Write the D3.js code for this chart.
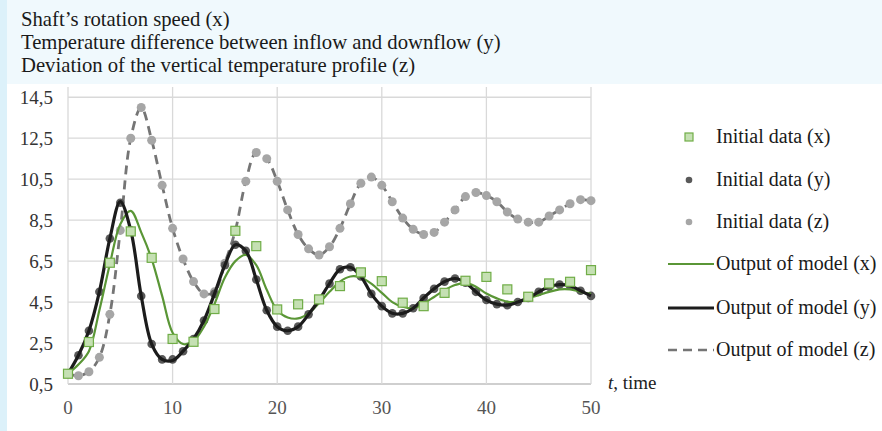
<!DOCTYPE html>
<html>
<head>
<meta charset="utf-8">
<script src="https://cdn.jsdelivr.net/npm/d3@7"></script>
<style>
body{margin:0;background:#fff;}
svg{display:block;}
</style>
</head>
<body>
<div id="chart"></div>
<script>
// ---- data ----
let titleLines = ["Shaft\u2019s rotation speed (x)",
  "Temperature difference between inflow and downflow (y)",
  "Deviation of the vertical temperature profile (z)"];

let timeX = [0,2,4,6,8,10,12,14,16,18,20,22,24,26,28,30,32,34,36,38,40,42,44,46,48,50];
let initX = [1.0,2.55,6.42,7.95,6.66,2.7,2.56,4.16,7.98,7.23,4.14,4.39,4.63,5.28,5.95,5.52,4.47,4.3,4.95,5.54,5.73,5.12,4.76,5.41,5.49,6.06];

let timeAll = [0,1,2,3,4,5,6,7,8,9,10,11,12,13,14,15,16,17,18,19,20,21,22,23,24,25,
  26,27,28,29,30,31,32,33,34,35,36,37,38,39,40,41,42,43,44,45,46,47,48,49,50];

let initY = [1.0,1.9,3.1,5.0,7.6,9.35,8.0,4.8,2.45,1.7,1.7,2.1,2.7,3.6,4.9,6.3,7.3,7.0,5.6,4.1,
  3.3,3.1,3.3,3.9,4.6,5.4,6.1,6.2,5.75,4.9,4.3,3.95,3.95,4.2,4.7,5.15,5.5,5.65,5.45,5.0,
  4.6,4.4,4.35,4.5,4.7,5.0,5.25,5.35,5.3,5.05,4.8];

let initZ = [1.0,0.9,1.1,1.8,3.9,8.0,12.5,14.0,12.4,10.2,8.1,6.6,5.5,4.9,5.0,6.4,8.0,10.4,11.8,11.5,
  10.4,9.0,7.8,7.1,6.8,7.2,8.1,9.3,10.3,10.6,10.2,9.4,8.6,8.05,7.8,7.9,8.4,9.0,9.65,9.85,
  9.7,9.4,8.9,8.55,8.4,8.4,8.7,9.0,9.3,9.5,9.45];

let modelX = [1.0,1.45,2.1,4.1,6.35,8.3,8.95,7.9,6.6,4.8,3.0,2.45,2.6,3.3,4.4,5.7,6.5,6.8,6.3,5.1,
  4.1,3.75,3.7,3.95,4.45,5.0,5.5,5.75,5.7,5.4,4.95,4.5,4.27,4.2,4.43,4.75,5.08,5.33,5.44,5.25,
  4.92,4.68,4.52,4.52,4.68,4.84,5.0,5.12,5.12,5.0,4.9];

let modelY = [1.0,1.9,3.1,5.0,7.6,9.4,8.0,4.8,2.45,1.7,1.65,2.1,2.7,3.6,4.9,6.3,7.3,7.0,5.6,4.1,
  3.3,3.1,3.3,3.9,4.6,5.4,6.1,6.2,5.75,4.9,4.3,3.95,3.95,4.2,4.7,5.15,5.5,5.65,5.45,5.0,
  4.6,4.4,4.35,4.5,4.7,5.0,5.25,5.35,5.3,5.05,4.8];

let modelZ = [1.0,0.9,1.1,1.8,3.9,8.0,12.5,14.0,12.4,10.2,8.1,6.6,5.5,4.9,5.0,6.4,8.0,10.4,11.8,11.5,
  10.4,9.0,7.8,7.1,6.8,7.2,8.1,9.3,10.3,10.6,10.2,9.4,8.6,8.05,7.8,7.9,8.4,9.0,9.65,9.85,
  9.7,9.4,8.9,8.55,8.4,8.4,8.7,9.0,9.3,9.5,9.45];

let yTicks = [0.5,2.5,4.5,6.5,8.5,10.5,12.5,14.5];
let xTicks = [0,10,20,30,40,50];

let legendItems = [
  {label:"Initial data (x)", kind:"square"},
  {label:"Initial data (y)", kind:"dotY"},
  {label:"Initial data (z)", kind:"dotZ"},
  {label:"Output of model (x)", kind:"lineX"},
  {label:"Output of model (y)", kind:"lineY"},
  {label:"Output of model (z)", kind:"lineZ"}
];

// ---- setup ----
let w = 882, h = 431;
let font = "'Liberation Serif','Times New Roman',serif";

let svg = d3.select("#chart").append("svg")
  .attr("width", w)
  .attr("height", h)
  .style("background-color", "white");

// light blue page edge
svg.append("rect").attr("x",0).attr("y",0).attr("width",w).attr("height",84).attr("fill","#f0f9fd");
svg.append("rect").attr("x",0).attr("y",0).attr("width",7).attr("height",h).attr("fill","#dcf1fa");

let x = d3.scaleLinear().domain([0,50]).range([68,591]);
let y = d3.scaleLinear().domain([0.5,15]).range([384,87]);
let fmt = d => d3.format(".1f")(d).replace(".", ",");

// title
svg.selectAll(".title").data(titleLines).enter().append("text")
  .attr("x",21)
  .attr("y",(d,i)=>26 + i*23)
  .attr("font-family",font)
  .attr("font-size",20.7)
  .attr("fill","#1a1a1a")
  .text(d=>d);

// gridlines
svg.selectAll(".hgrid").data(yTicks).enter().append("line")
  .attr("x1",x(0)).attr("x2",x(50))
  .attr("y1",d=>y(d)).attr("y2",d=>y(d))
  .attr("stroke",d=>d==0.5 ? "#bfbfbf" : "#d9d9d9")
  .attr("stroke-width",1.3);
svg.selectAll(".vgrid").data(xTicks).enter().append("line")
  .attr("x1",d=>x(d)).attr("x2",d=>x(d))
  .attr("y1",y(15)).attr("y2",y(0.5))
  .attr("stroke","#d9d9d9")
  .attr("stroke-width",1.3);

// tick labels
svg.selectAll(".ylab").data(yTicks).enter().append("text")
  .attr("x",53)
  .attr("y",d=>y(d))
  .attr("dy","0.35em")
  .attr("text-anchor","end")
  .attr("font-family",font)
  .attr("font-size",19)
  .attr("fill","#333")
  .text(fmt);
svg.selectAll(".xlab").data(xTicks).enter().append("text")
  .attr("x",d=>x(d))
  .attr("y",414)
  .attr("text-anchor","middle")
  .attr("font-family",font)
  .attr("font-size",19)
  .attr("fill","#555")
  .text(d=>d);

let tLabel = svg.append("text")
  .attr("x",608).attr("y",389)
  .attr("font-family",font)
  .attr("font-size",19)
  .attr("fill","#222");
tLabel.append("tspan").attr("font-style","italic").text("t");
tLabel.append("tspan").text(", time");

// lines
let lineFor = vals => d3.line()
  .x((d,i)=>x(timeAll[i]))
  .y(d=>y(d))
  .curve(d3.curveCatmullRom.alpha(0.5))(vals);

svg.append("path").attr("d",lineFor(modelZ))
  .attr("fill","none").attr("stroke","#757575")
  .attr("stroke-width",2.8).attr("stroke-dasharray","9,6");

svg.selectAll(".dotZ").data(initZ).enter().append("circle")
  .attr("cx",(d,i)=>x(timeAll[i]))
  .attr("cy",d=>y(d))
  .attr("r",4.5)
  .attr("fill","#a6a6a6");

svg.selectAll(".dotY").data(initY).enter().append("circle")
  .attr("cx",(d,i)=>x(timeAll[i]))
  .attr("cy",d=>y(d))
  .attr("r",4.3)
  .attr("fill","#595959");

svg.append("path").attr("d",lineFor(modelX))
  .attr("fill","none").attr("stroke","#5a9636")
  .attr("stroke-width",2.2);

svg.append("path").attr("d",lineFor(modelY))
  .attr("fill","none").attr("stroke","#1c1c1c")
  .attr("stroke-width",3.2);

svg.selectAll(".sqX").data(initX).enter().append("rect")
  .attr("x",(d,i)=>x(timeX[i])-4.5)
  .attr("y",d=>y(d)-4.5)
  .attr("width",9).attr("height",9)
  .attr("fill","#c5e0b3")
  .attr("stroke","#70ad47")
  .attr("stroke-width",1.2);

// legend
let legRows = [143,186,228,270,314,356];
let leg = svg.selectAll(".leg").data(legendItems).enter().append("g")
  .attr("transform",(d,i)=>"translate(0,"+legRows[i]+")");

leg.append("text")
  .attr("x",716).attr("y",0)
  .attr("font-family",font)
  .attr("font-size",20)
  .attr("fill","#1a1a1a")
  .text(d=>d.label);

leg.each(function(d){
  let g = d3.select(this);
  if(d.kind=="square"){
    g.append("rect").attr("x",685).attr("y",-10).attr("width",8).attr("height",8)
      .attr("fill","#c5e0b3").attr("stroke","#70ad47").attr("stroke-width",1.2);
  } else if(d.kind=="dotY"){
    g.append("circle").attr("cx",689).attr("cy",-6).attr("r",3.3).attr("fill","#595959");
  } else if(d.kind=="dotZ"){
    g.append("circle").attr("cx",689).attr("cy",-6).attr("r",3.3).attr("fill","#a6a6a6");
  } else {
    let col = d.kind=="lineX" ? "#5a9636" : d.kind=="lineY" ? "#1c1c1c" : "#757575";
    let sw = d.kind=="lineX" ? 2.2 : d.kind=="lineY" ? 3.2 : 2.4;
    g.append("line").attr("x1",668).attr("x2",714).attr("y1",-6).attr("y2",-6)
      .attr("stroke",col).attr("stroke-width",sw)
      .attr("stroke-dasharray",d.kind=="lineZ" ? "9,6" : null);
  }
});
</script>
</body>
</html>
